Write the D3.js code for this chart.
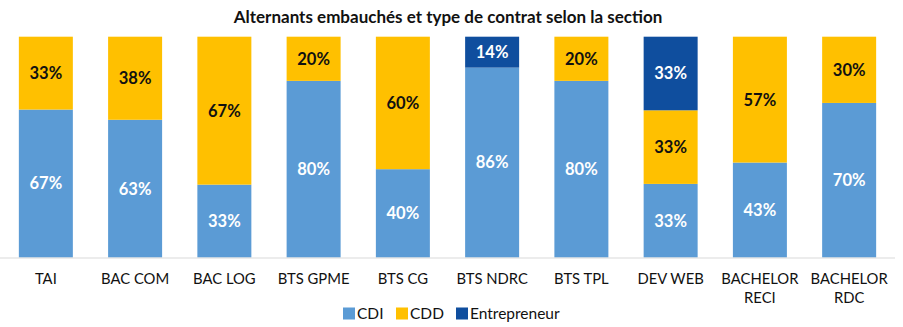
<!DOCTYPE html>
<html>
<head>
<meta charset="utf-8">
<script src="https://cdn.jsdelivr.net/npm/d3@7"></script>
<style>
  body { margin: 0; background: #fff; }
  text { font-family: Lato, "Open Sans", sans-serif; }
</style>
</head>
<body>
<script>
let sections = ["TAI", "BAC COM", "BAC LOG", "BTS GPME", "BTS CG", "BTS NDRC", "BTS TPL", "DEV WEB", "BACHELOR RECI", "BACHELOR RDC"]
let cdi = [67, 63, 33, 80, 40, 86, 80, 33, 43, 70]
let cdd = [33, 38, 67, 20, 60, 0, 20, 33, 57, 30]
let entrepreneur = [0, 0, 0, 0, 0, 14, 0, 33, 0, 0]
let seriesNames = ["CDI", "CDD", "Entrepreneur"]

let width = 903, height = 327
let colors = {CDI: "#5B9BD5", CDD: "#FFC000", Entrepreneur: "#0F4E9E"}
let labelColors = {CDI: "#fff", CDD: "#111", Entrepreneur: "#fff"}

let rows = sections.map(function(s, i) {
  return {section: s, CDI: cdi[i], CDD: cdd[i], Entrepreneur: entrepreneur[i]}
})

let svg = d3.select("body").append("svg")
  .attr("width", width)
  .attr("height", height)

let x = d3.scaleBand().domain(sections).range([1, 894]).paddingInner(0.395).paddingOuter(0.2)
let y = d3.scaleLinear().domain([0, 1]).range([257.5, 36.7])

let stack = d3.stack().keys(seriesNames).offset(d3.stackOffsetExpand)
let layers = stack(rows)

svg.append("text")
  .attr("x", 448)
  .attr("y", 23)
  .attr("text-anchor", "middle")
  .attr("font-size", 17)
  .attr("font-weight", "bold")
  .attr("fill", "#111")
  .text("Alternants embauchés et type de contrat selon la section")

let layer = svg.selectAll("g.layer")
  .data(layers)
  .enter().append("g")
  .attr("class", "layer")

layer.selectAll("rect")
  .data(function(d) { return d.map(function(p) { return {key: d.key, p: p} }) })
  .enter().append("rect")
  .attr("x", function(d) { return x(d.p.data.section) })
  .attr("width", x.bandwidth())
  .attr("y", function(d) { return y(d.p[1]) })
  .attr("height", function(d) { return y(d.p[0]) - y(d.p[1]) })
  .attr("fill", function(d) { return colors[d.key] })

layer.selectAll("text")
  .data(function(d) { return d.map(function(p) { return {key: d.key, p: p} }).filter(function(d) { return d.p.data[d.key] > 0 }) })
  .enter().append("text")
  .attr("x", function(d) { return x(d.p.data.section) + x.bandwidth() / 2 })
  .attr("y", function(d) { return (y(d.p[0]) + y(d.p[1])) / 2 })
  .attr("dy", "0.36em")
  .attr("text-anchor", "middle")
  .attr("font-size", 16.5)
  .attr("font-weight", "bold")
  .attr("fill", function(d) { return labelColors[d.key] })
  .text(function(d) { return d.p.data[d.key] + "%" })

// baseline / axis
let axis = svg.append("g")
  .attr("transform", "translate(0," + 258 + ")")
  .call(d3.axisBottom(x).tickSize(0).tickPadding(15))
axis.select(".domain").attr("stroke", "#d9d9d9").attr("d", "M0,0H895")
axis.selectAll(".tick text")
  .attr("font-size", 14.8)
  .attr("font-family", "Lato, sans-serif")
  .attr("fill", "#111")
  .each(function(d) {
    let t = d3.select(this)
    if (this.getComputedTextLength() > x.step() - 6) {
      let words = d.split(" ")
      let last = words.pop()
      t.text(null)
      t.append("tspan").attr("x", 0).attr("dy", "0.71em").text(words.join(" "))
      t.append("tspan").attr("x", 0).attr("dy", "1.35em").text(last)
    }
  })

// legend
let legendX = [343, 396, 456]
let legend = svg.selectAll("g.legend")
  .data(seriesNames)
  .enter().append("g")
  .attr("class", "legend")
  .attr("transform", function(d, i) { return "translate(" + legendX[i] + ",313)" })
legend.append("rect")
  .attr("x", 0).attr("y", -5.5)
  .attr("width", 12).attr("height", 12)
  .attr("fill", function(d) { return colors[d] })
legend.append("text")
  .attr("x", 14)
  .attr("dy", "0.36em")
  .attr("font-size", 15.5)
  .attr("fill", "#111")
  .text(function(d) { return d })
</script>
</body>
</html>
